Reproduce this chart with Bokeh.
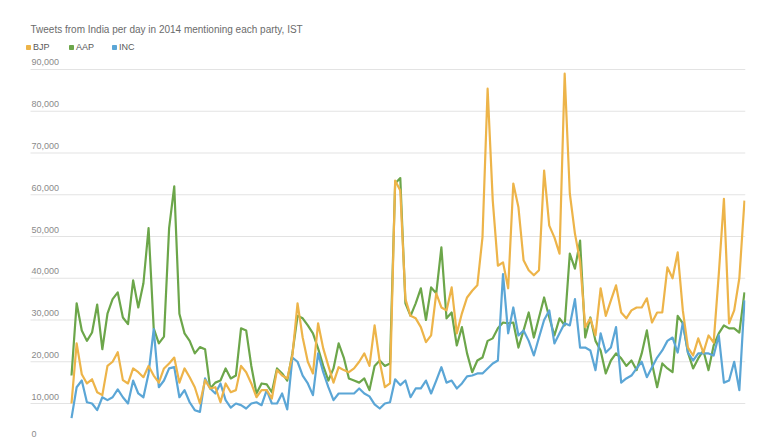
from bokeh.plotting import figure
from bokeh.models import Range1d, ColumnDataSource, Legend, LegendItem
from bokeh.core.properties import value
from bokeh.embed import file_html
from bokeh.resources import INLINE

# ---- data (tweets per day, thousands) ----
bjp_k = [
    10, 24.4, 17, 14.8, 15.8, 12.7, 12, 19, 20, 22.3,
    15.6, 14.8, 18.4, 17.5, 16.3, 19, 16.7, 15, 18.4, 19.6,
    21, 15, 18.4, 16.3, 13.9, 10, 15.6, 13.6, 13.9, 10.3,
    14.8, 12.7, 13.2, 19, 17.5, 14.8, 11.5, 13.2, 13.2, 11.2,
    18, 16.7, 16, 21.5, 34, 25.8, 20, 17.2, 29.2, 23.2,
    19, 15, 18.7, 18, 17.5, 18.4, 20, 22, 19, 28.7,
    20, 13.9, 14.8, 63.4, 61, 35, 31, 30.4, 28.3, 24.7,
    26.3, 36.4, 33, 32.3, 37.8, 26.8, 31.6, 35.4, 37, 38.3,
    49.8, 85.4, 58.6, 43, 43.8, 37.6, 62.7, 57, 44.3, 41.9,
    40.7, 41.9, 65.8, 52.6, 49.8, 45.9, 89, 60.3, 50.7, 44,
    28.3, 30.4, 26.3, 37.6, 31, 34.7, 38.3, 31.8, 30.4, 32.3,
    33, 33, 35.2, 29.4, 31.8, 31.8, 42.6, 40, 46.2, 32.3,
    23.4, 21.5, 25.6, 22.2, 26.3, 24.6, 41, 59, 29.2, 32.3,
    40, 58.6,
]
aap_k = [
    16.7, 34, 27.5, 25, 27, 33.7, 23, 31.5, 35, 36.6,
    30.6, 29, 39.5, 33, 38.8, 52, 28, 24.4, 26, 52,
    62, 31.5, 26.8, 25, 22, 23.5, 23, 13.6, 15, 15.5,
    18.4, 16, 16.7, 28, 27.5, 19, 12.4, 14.8, 14.6, 12.7,
    18.4, 17.2, 15.5, 22, 31, 30.4, 28.7, 26.8, 23.2, 19,
    15.5, 18.4, 24.4, 21, 16, 15.5, 15, 16, 13.2, 19,
    20.3, 19, 19.6, 62.7, 64, 34, 31, 34, 37.6, 30,
    37.8, 36.4, 47.4, 30.4, 31.8, 23.9, 28.3, 22, 17.5, 20.3,
    21, 25, 25.6, 28, 29.4, 29.2, 29.4, 23.4, 27.5, 31.8,
    25.8, 30.6, 35.4, 30.6, 26.3, 30.4, 28.7, 45.9, 42.3, 49,
    25.8, 30.6, 25, 22.7, 17.2, 20.3, 22, 20.8, 19, 20.3,
    18, 22, 27.5, 19.6, 13.9, 19.6, 18.4, 17.5, 31, 29.2,
    22.2, 18.4, 20.8, 22.7, 18, 23.9, 26.8, 28.7, 28, 28,
    27, 36.6,
]
inc_k = [
    6.5, 13.9, 15.5, 10.3, 10, 8.4, 11.5, 10.8, 11.5, 13.4,
    11.5, 10, 15.5, 12.4, 11.5, 17.2, 27.8, 13.9, 15.5, 18.4,
    18.7, 11.5, 13.2, 10.3, 8.4, 8, 16, 13.6, 12.4, 14.8,
    10.8, 9, 10, 9.6, 8.8, 10, 10.3, 9.6, 13.2, 10,
    10, 12.4, 8.6, 21, 20, 16.7, 14.8, 12, 22, 17.5,
    13.9, 10.8, 12.4, 12.4, 12.4, 12.4, 13.6, 12.4, 11.7, 9.8,
    8.8, 10, 10.3, 15.8, 14.4, 15.5, 11.5, 13.6, 13.6, 15.5,
    12.4, 15.5, 18.7, 15, 15.5, 13.6, 14.8, 16.5, 16.7, 17.2,
    17.2, 18.4, 19.6, 20.3, 41, 26.8, 33, 26.3, 27.5, 25,
    21.5, 25.8, 30, 32.3, 24.4, 26.8, 29.2, 28.7, 35, 23.4,
    23.4, 22.7, 18, 26.8, 22.2, 23.4, 28.3, 15, 16, 16.7,
    18.4, 20, 16.3, 18.7, 21, 22.7, 25, 25.8, 22.2, 29.4,
    22.2, 20.3, 22, 22, 22, 21.5, 26.3, 15, 15.5, 20,
    13.2, 34.7,
]
days = list(range(len(bjp_k)))
series_names = ["BJP", "AAP", "INC"]
y_ticks = [10000, 20000, 30000, 40000, 50000, 60000, 70000, 80000, 90000]
y_tick_labels = ["10,000", "20,000", "30,000", "40,000", "50,000",
                 "60,000", "70,000", "80,000", "90,000"]
zero_tick, zero_label = 0, "0"
subtitle = "Tweets from India per day in 2014 mentioning each party, IST"

colors = {"BJP": "#EDB449", "AAP": "#6CA64A", "INC": "#5BA6D6"}
FONT = "Liberation Sans"

src = ColumnDataSource(dict(
    day=days,
    BJP=[v * 1000 for v in bjp_k],
    AAP=[v * 1000 for v in aap_k],
    INC=[v * 1000 for v in inc_k],
))

xr = Range1d(-9.54, 131.2)
yr = Range1d(1138, 97425)
grid_x0 = -7.98  # where the grid lines and tick labels begin (left edge)
p = figure(width=780, height=440, output_backend="svg", toolbar_location=None,
           x_axis_type=None, y_axis_type=None, x_range=xr, y_range=yr,
           min_border_left=22, min_border_right=35, min_border_top=38,
           min_border_bottom=0)
p.outline_line_color = None
p.background_fill_color = "white"
p.border_fill_color = "white"
p.xgrid.visible = False
p.ygrid.visible = False

# horizontal grid lines
grid_src = ColumnDataSource(dict(x0=[grid_x0] * len(y_ticks), x1=[xr.end] * len(y_ticks),
                                 y=y_ticks, t=y_tick_labels))
p.segment(x0="x0", x1="x1", y0="y", y1="y", source=grid_src,
          line_color="#e3e3e3", line_width=1)

# y tick labels placed above the grid lines, left aligned
p.text(x="x0", y="y", text="t", source=grid_src, x_offset=1, y_offset=-7,
       text_align="left", text_baseline="middle", text_font=value(FONT),
       text_font_size="9px", text_color="#8a8a8a")
p.text(x=[grid_x0], y=[zero_tick], text=[zero_label], x_offset=1, y_offset=-11,
       text_align="left", text_baseline="middle", text_font=value(FONT),
       text_font_size="9px", text_color="#8a8a8a")

for name in ["AAP", "INC", "BJP"]:
    p.line(x="day", y=name, source=src, line_color=colors[name],
           line_width=2.2, line_join="round")

# legend swatches (square markers)
items = []
for name in series_names:
    sq = p.scatter(x="day", y=name, source=src, marker="square", size=0,
                   fill_color=colors[name], line_color=colors[name])
    items.append(LegendItem(label=name, renderers=[sq]))

legend = Legend(items=items, orientation="horizontal", location=(1, 388),
                glyph_width=10, glyph_height=10, label_height=10,
                label_standoff=0, spacing=13, padding=0, margin=0,
                border_line_alpha=0, background_fill_alpha=0,
                label_text_font=FONT, label_text_font_size="9px",
                label_text_color="#5a5a5a")
p.add_layout(legend)

p.title.text = subtitle
p.title.align = "left"
p.title.offset = 8
p.title.text_font = FONT
p.title.text_font_size = "10px"
p.title.text_font_style = "normal"
p.title.text_color = "#6b6b6b"
p.title.standoff = 7

open("out.html", "w").write(file_html(p, INLINE))
